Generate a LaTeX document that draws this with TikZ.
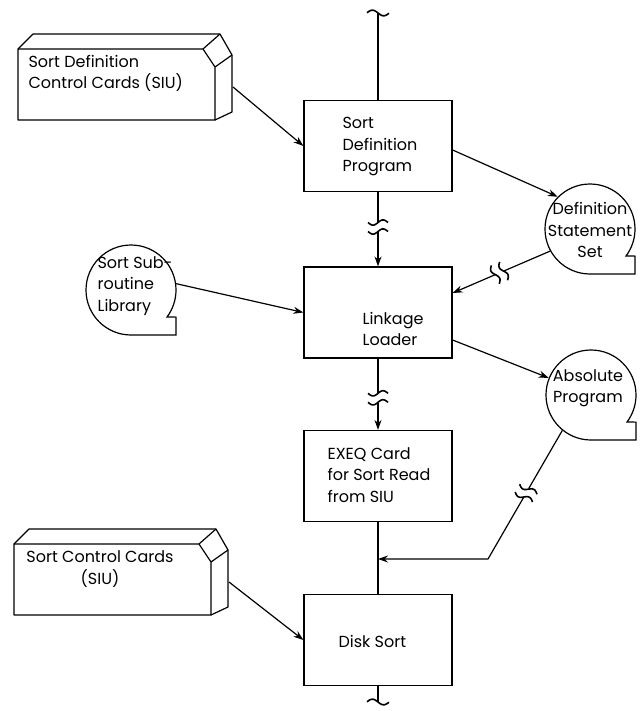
\documentclass[tikz,border=0pt]{standalone}
\usepackage{fontspec}
\setmainfont{Poppins}
\usetikzlibrary{arrows.meta,calc,decorations.markings}
\begin{document}
\begin{tikzpicture}[x=1pt,y=-1pt,line width=1.2pt,
  box/.style={draw,minimum width=148pt,minimum height=91pt,inner sep=0pt},
  lbl/.style={font=\fontsize{16}{21.5}\selectfont,inner sep=0pt,align=left,anchor=west},
  clbl/.style={font=\fontsize{16}{21.5}\selectfont,inner sep=0pt,align=center,anchor=center},
  arr/.style={-{Stealth[length=10pt,width=7pt]}},
  tapec/.style={circle,minimum size=90pt,inner sep=0pt},
  deckface/.style={minimum width=197pt,minimum height=71pt,inner sep=0pt,anchor=north west},
  tape/.pic={\draw[-] (0,45) arc[start angle=90,end angle=397,radius=45] -- (45,27.1) -- (45,45) -- cycle;},
  deck/.pic={\draw[-,line join=round] (0,0) -- (185,0) -- (197,18) -- (197,71) -- (0,71) -- cycle;
             \draw[-,line join=round] (0,0) -- (15,-15) -- (202,-15) -- (214,6) -- (214,63) -- (197,71);
             \draw[-] (185,0) -- (202,-15) (197,18) -- (214,6);},
  brk/.pic={\fill[white] (-5,-10) rectangle (5,10);
            \draw[-,line width=1.6pt] plot[domain=-10:10,samples=21,smooth] ({-4.5+2.6*sin(18*\x)},\x);
            \draw[-,line width=1.6pt] plot[domain=-10:10,samples=21,smooth] ({4.5+2.6*sin(18*\x)},\x);},
  etilde/.pic={\draw[-,line width=1.6pt] plot[domain=-11:11,samples=23,smooth] (\x,{2.8*sin(16*\x)});},
  brkat/.style={postaction={decorate,decoration={markings,mark=at position #1 with {\pic[transform shape]{brk};}}}}
]
\useasboundingbox (0,0) rectangle (639,711);

% boxes
\node[box] (sdp) at (378,146) {};
\node[box] (lnk) at (378,312.5) {};
\node[box] (exq) at (378,476) {};
\node[box] (dsk) at (378,640) {};

% card decks
\pic at (18,49) {deck};
\node[deckface] (d1) at (18,49) {};
\pic at (14,544) {deck};
\node[deckface] (d2) at (14,544) {};
\coordinate (d1o) at (233,87);
\coordinate (d2o) at (229,582);

% tape symbols
\node[tapec] (def) at (590,229) {};
\pic at (def.center) {tape};
\node[tapec] (lib) at (131,290) {};
\pic at (lib.center) {tape};
\node[tapec] (abs) at (591,395) {};
\pic at (abs.center) {tape};

% texts
\node[lbl] (d1t) at (28,73.3) {Sort Definition\\Control Cards (SIU)};
\node[lbl] (sdpt) at (342,147) {Sort\\Definition\\Program};
\node[clbl] (deft) at (590,230) {Definition\\Statement\\Set};
\node[lbl] (libt) at (97,286) {Sort Sub-\\routine\\Library};
\node[lbl] (lnkt) at (362,329) {Linkage\\Loader};
\node[clbl] (abst) at (588,388) {Absolute\\Program};
\node[lbl] (exqt) at (327,475) {EXEQ Card\\for Sort Read\\from SIU};
\node[clbl] (d2t) at (100,569) {Sort Control Cards\\(SIU)};
\node[lbl] (dskt) at (338,641) {Disk Sort};

% main line
\coordinate (top) at (378,13);
\coordinate (bot) at (378,702);
\coordinate (join) at (378,559);
\coordinate (bend) at (488,559);
\draw (top) -- (sdp.north);
\pic at (top) {etilde};
\draw[arr,brkat=0.47] (sdp.south) -- (lnk.north);
\draw[arr,brkat=0.55] (lnk.south) -- (exq.north);
\draw (exq.south) -- (dsk.north);
\draw (dsk.south) -- (bot);
\pic at (bot) {etilde};

% side connectors
\draw[arr] (d1o) -- (sdp.west);
\draw[arr] ([yshift=-4pt]sdp.east) -- (def.135);
\draw[arr,brkat=0.52] (def.209) -- ([yshift=19.5pt]lnk.east);
\draw[arr] (lib.8) -- (lnk.west);
\draw[arr] ([yshift=-27.5pt]lnk.east) -- (abs.158);
\draw[arr,brkat=0.28] (abs.231) -- (bend) -- (join);
\draw[arr] (d2o) -- (dsk.west);
\end{tikzpicture}
\end{document}
